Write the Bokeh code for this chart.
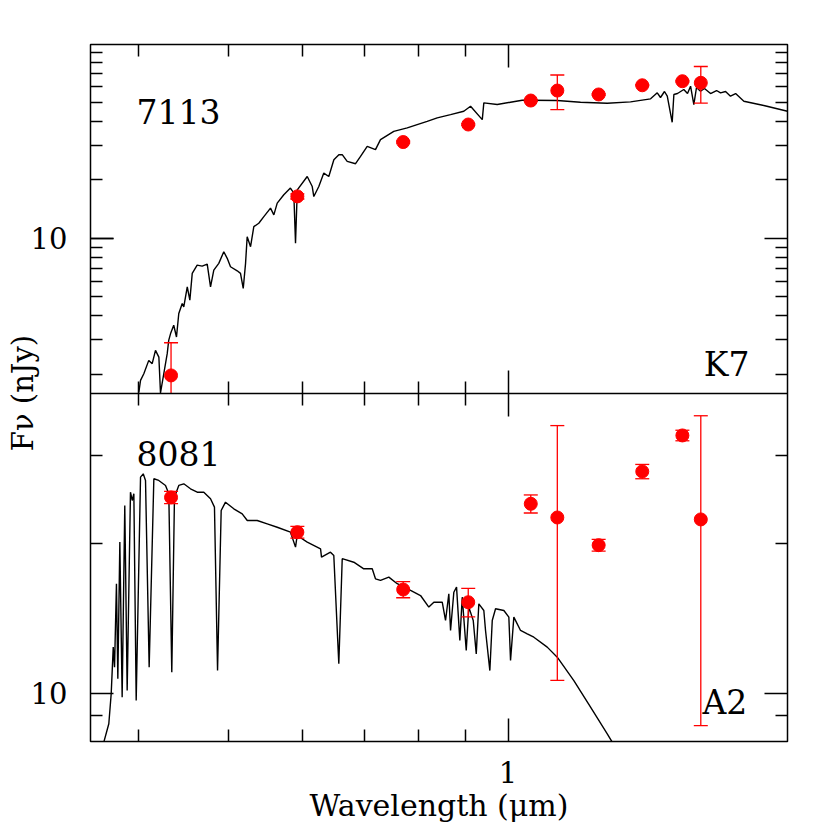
import numpy as np
from bokeh.plotting import figure
from bokeh.models import (Range1d, LogScale, LogAxis, FixedTicker, CustomJSTickFormatter,
                          CustomLabelingPolicy, Label)
from bokeh.embed import file_html
from bokeh.resources import INLINE

# ---------------- axis limits and ticks ----------------
xlim = (0.355, 2.0)          # wavelength, micron
ylim_top = (1.6, 99.0)       # nJy, object 7113
ylim_bot = (8.0, 40.0)       # nJy, object 8081

x_major = [1.0]
x_minor = [0.4, 0.5, 0.6, 0.7, 0.8, 0.9]
ytop_major = [10.0]
ytop_minor = [2, 3, 4, 5, 6, 7, 8, 9, 20, 30, 40, 50, 60, 70, 80, 90]
ybot_major = [10.0]
ybot_minor = [9, 20, 30]

# ---------------- photometry ----------------
phot_wave = [0.4335, 0.593, 0.771, 0.906, 1.058, 1.130, 1.252, 1.395, 1.541, 1.613]
top_flux = [1.97, 16.4, 31.2, 38.4, 51.0, 57.4, 54.8, 61.1, 64.1, 62.9]
top_err = [0.93, 0.5, 0.4, 0.4, 0.5, 11.6, 0.5, 0.5, 0.6, 13.4]
bot_flux = [24.7, 21.03, 16.14, 15.22, 23.98, 22.51, 19.81, 27.84, 32.88, 22.31]
bot_err = [0.7, 0.57, 0.6, 1.0, 1.0, 11.9, 0.54, 0.92, 0.8, 13.7]

# ---------------- template spectra ----------------
top_spec_wave = [0.4002, 0.4019, 0.4052, 0.4102, 0.4137, 0.4171, 0.4206, 0.4223, 0.4294, 0.4310,
                 0.4330, 0.4364, 0.4394, 0.4419, 0.4457, 0.4474, 0.4513, 0.4542, 0.4569, 0.4625,
                 0.4683, 0.4742, 0.4781, 0.4820, 0.4880, 0.4941, 0.4983, 0.5024, 0.5108, 0.5150,
                 0.5185, 0.5215, 0.5236, 0.5280, 0.5323, 0.5389, 0.5457, 0.5548, 0.5594, 0.5641,
                 0.5734, 0.5829, 0.5878, 0.5903, 0.5929, 0.6077, 0.6153, 0.6177, 0.6254, 0.6332,
                 0.6411, 0.6492, 0.6573,
                 0.6628, 0.6710, 0.6851, 0.6936, 0.7052, 0.7198, 0.7288, 0.7532, 0.7788, 0.7982,
                 0.8183, 0.8389, 0.8671, 0.8961, 0.9112, 0.9381, 0.9417, 0.9735, 1.0061, 1.0357,
                 1.0574, 1.1298, 1.1969, 1.2789, 1.3550, 1.4241, 1.4479, 1.4596, 1.4741, 1.4843,
                 1.5025, 1.5088, 1.5224, 1.5464, 1.5607, 1.5726, 1.5854, 1.5959, 1.6119, 1.6278,
                 1.6525, 1.6773, 1.6940, 1.7152, 1.7363, 1.7585, 1.7948, 1.8858, 2.0]
top_spec_flux = [1.61, 1.857, 2.011, 2.354, 2.264, 2.651, 2.448, 1.6, 2.549, 2.985,
                 3.232, 3.567, 3.105, 4.100, 4.616, 4.433, 5.622, 4.801, 6.592, 7.273,
                 7.187, 7.360, 5.622, 6.855, 7.423, 8.519, 7.876, 7.129, 6.798, 6.592,
                 5.516, 7.423, 10.18, 9.04, 11.46, 11.93, 12.91, 14.27, 13.17, 15.14,
                 16.71, 18.09, 17.05, 9.41, 17.73, 20.76, 18.43, 16.37, 18.43, 21.61,
                 20.76, 25.31, 26.86,
                 26.86, 24.80, 24.14, 26.32, 29.65, 28.51, 32.09, 35.43, 36.88, 38.36,
                 39.89, 41.54, 43.19, 44.92, 47.67, 40.70, 49.63, 48.64, 49.98, 51.18,
                 51.18, 51.00, 49.98, 49.40, 50.22, 52.04, 55.88, 52.86, 56.75, 53.67,
                 39.42, 54.76, 55.42, 58.12, 55.42, 60.44, 48.64, 59.52, 56.95, 58.82,
                 55.42, 57.43, 55.88, 56.75, 53.67, 55.42, 50.58, 48.07, 44.92]

bot_spec_wave = [0.3669, 0.3715, 0.3737, 0.3756, 0.3768, 0.3786, 0.3799, 0.3818, 0.3840, 0.3865,
                 0.3888, 0.3920, 0.3937, 0.3953, 0.3976, 0.4019, 0.4046, 0.4069, 0.4106, 0.4154,
                 0.4205, 0.4276, 0.4311, 0.4343, 0.4372, 0.4419, 0.4474, 0.4549, 0.4626, 0.4702,
                 0.4781, 0.4828, 0.4865, 0.4909, 0.4962, 0.5065, 0.5172, 0.5237, 0.5368, 0.5503,
                 0.5641, 0.5830, 0.5903, 0.5927, 0.6077, 0.6281, 0.6296, 0.6438, 0.6491, 0.6572,
                 0.6628, 0.6821, 0.6992, 0.7140, 0.7198, 0.7288, 0.7440, 0.7597, 0.7852, 0.8049,
                 0.8216, 0.8319, 0.8494, 0.8564, 0.8634, 0.8671, 0.8742, 0.8801, 0.8873, 0.8926,
                 0.9015, 0.9073, 0.9173, 0.9242, 0.9301, 0.9417, 0.9457, 0.9559, 0.9616, 0.9695,
                 0.9897, 1.0020, 1.0062, 1.0145, 1.0315, 1.0488, 1.0661, 1.1021, 1.1298, 1.1773,
                 1.2271, 1.2790, 1.2950, 1.3024]
bot_spec_flux = [7.973, 8.683, 9.972, 12.37, 11.27, 16.58, 10.69, 20.09, 9.817, 23.79,
                 10.12, 25.30, 24.35, 25.12, 9.668, 27.12, 27.54, 26.71, 11.27, 26.92,
                 26.71, 26.10, 25.12, 11.02, 24.73, 26.10, 26.30, 25.70, 25.30, 25.30,
                 24.54, 23.61, 11.10, 23.25, 24.16, 23.43, 22.89, 22.20, 22.20, 21.86,
                 21.52, 21.03, 19.63, 20.71, 20.09, 19.48, 18.74, 19.18, 18.89, 11.46,
                 18.61, 18.31, 17.76, 17.76, 16.96, 16.83, 17.09, 16.58, 16.07, 15.70,
                 14.88, 15.22, 15.22, 13.99, 15.83, 13.36, 15.94, 16.32, 12.76, 15.58,
                 12.18, 14.88, 13.99, 11.99, 15.11, 14.65, 13.36, 11.10, 13.99, 14.77,
                 14.65, 14.21, 11.63, 14.21, 13.36, 13.15, 12.95, 12.37, 11.81, 10.60,
                 9.374, 8.288, 7.973, 7.675]

FONT = "DejaVu Serif"

# Both panels share one frame: each panel's log range is extended so that
# its limits fall exactly on the upper / lower half of the frame.
top_ext = (ylim_top[0] ** 2 / ylim_top[1], ylim_top[1])
bot_ext = (ylim_bot[0], ylim_bot[1] ** 2 / ylim_bot[0])


def top_in_default_units(v):
    f = np.log10(v / top_ext[0]) / np.log10(top_ext[1] / top_ext[0])
    return float(bot_ext[0] * (bot_ext[1] / bot_ext[0]) ** f)


p = figure(width=807, height=828, x_axis_type="log", y_axis_type="log",
           x_range=Range1d(*xlim), y_range=Range1d(*bot_ext),
           output_backend="svg", toolbar_location=None,
           min_border_left=90, min_border_right=20, min_border_top=44, min_border_bottom=87)
p.extra_y_ranges = {"top": Range1d(*top_ext)}
p.extra_y_scales = {"top": LogScale()}
p.xgrid.visible = False
p.ygrid.visible = False
p.outline_line_color = "black"
p.outline_line_width = 1.5
p.background_fill_color = "white"
p.border_fill_color = "white"

HIDE = "for (const i of indices) { indices.unset(i) }\nreturn indices"


def style_axis(ax, ticks, minor, labels=False, both=False, standoff=0):
    ax.ticker = FixedTicker(ticks=ticks, minor_ticks=minor)
    ax.major_tick_in = 23
    ax.major_tick_out = 23 if both else 0
    ax.minor_tick_in = 12
    ax.minor_tick_out = 12 if both else 0
    ax.major_tick_line_width = 1.5
    ax.minor_tick_line_width = 1.5
    ax.major_tick_line_color = "black"
    ax.minor_tick_line_color = "black"
    ax.axis_line_color = None
    if labels:
        ax.major_label_text_font = FONT
        ax.major_label_text_font_size = "29px"
        ax.major_label_text_color = "black"
        ax.major_label_standoff = standoff
    else:
        ax.major_label_policy = CustomLabelingPolicy(code=HIDE)
        ax.major_label_standoff = 0


# bottom x axis with labels
xb = p.xaxis[0]
style_axis(xb, x_major, x_minor, labels=True, standoff=19)
xb.formatter = CustomJSTickFormatter(code="return tick.toString();")
xb.axis_label = "Wavelength (μm)"
xb.axis_label_text_font = FONT
xb.axis_label_text_font_size = "30px"
xb.axis_label_text_font_style = "normal"
xb.axis_label_text_color = "black"
xb.axis_label_standoff = 2

# top x axis
xt = LogAxis()
style_axis(xt, x_major, x_minor)
xt.fixed_location = bot_ext[1]
p.add_layout(xt, "above")

# x ticks on the divider between the panels
xm = LogAxis()
style_axis(xm, x_major, x_minor, both=True)
xm.fixed_location = ylim_bot[1]
xm.axis_line_color = "black"
xm.axis_line_width = 1.5
p.add_layout(xm, "above")

# left axis carrying the labels of both panels and the axis title
yl = p.yaxis[0]
style_axis(yl, ybot_major + [top_in_default_units(t) for t in ytop_major], ybot_minor,
           labels=True, standoff=23)
yl.formatter = CustomJSTickFormatter(
    args=dict(blo=bot_ext[0], bhi=bot_ext[1], tlo=top_ext[0], thi=top_ext[1], mid=ylim_bot[1]),
    code="""
    if (tick > mid) {
        const f = Math.log10(tick / blo) / Math.log10(bhi / blo);
        return (tlo * Math.pow(thi / tlo, f)).toPrecision(2);
    }
    return tick.toPrecision(2);
    """)
yl.axis_label = "Fν (nJy)"
yl.axis_label_text_font = FONT
yl.axis_label_text_font_size = "29px"
yl.axis_label_text_font_style = "normal"
yl.axis_label_text_color = "black"
yl.axis_label_standoff = -12

# left ticks of the upper panel
yl_top = LogAxis(y_range_name="top")
style_axis(yl_top, ytop_major, ytop_minor)
yl_top.fixed_location = xlim[0]
p.add_layout(yl_top, "left")

# right axes
yr_bot = LogAxis()
style_axis(yr_bot, ybot_major, ybot_minor)
yr_bot.fixed_location = xlim[1]
p.add_layout(yr_bot, "right")

yr_top = LogAxis(y_range_name="top")
style_axis(yr_top, ytop_major, ytop_minor)
yr_top.fixed_location = xlim[1]
p.add_layout(yr_top, "right")

# spectra
p.line(top_spec_wave, top_spec_flux, line_color="black", line_width=1.4, y_range_name="top")
p.line(bot_spec_wave, bot_spec_flux, line_color="black", line_width=1.4)


def draw_phot(flux, err, lim, rn):
    w = np.array(phot_wave)
    f = np.array(flux)
    e = np.array(err)
    hi = f + e
    lo_raw = f - e
    lo = np.maximum(lo_raw, lim)
    kw = {} if rn is None else {"y_range_name": rn}
    p.segment(w, lo, w, hi, line_color="red", line_width=1.3, **kw)
    p.scatter(w, hi, marker="dash", size=14, line_color="red", line_width=1.3, **kw)
    keep = lo_raw >= lim
    p.scatter(w[keep], lo_raw[keep], marker="dash", size=14, line_color="red", line_width=1.3, **kw)
    p.scatter(w, f, marker="circle", size=13, fill_color="red", line_color="red", **kw)


draw_phot(top_flux, top_err, ylim_top[0], "top")
draw_phot(bot_flux, bot_err, ylim_bot[0], None)

# panel annotations
for txt, x, y, align, rn in [("7113", 0.398, 44.9, "left", "top"),
                              ("K7", 1.82, 2.245, "right", "top"),
                              ("8081", 0.398, 30.25, "left", None),
                              ("A2", 1.81, 9.58, "right", None)]:
    kw = {} if rn is None else {"y_range_name": rn}
    p.add_layout(Label(x=x, y=y, text=txt, text_font=FONT, text_font_size="33px",
                       text_color="black", text_align=align, text_baseline="alphabetic", **kw))

open("out.html", "w").write(file_html(p, INLINE))
